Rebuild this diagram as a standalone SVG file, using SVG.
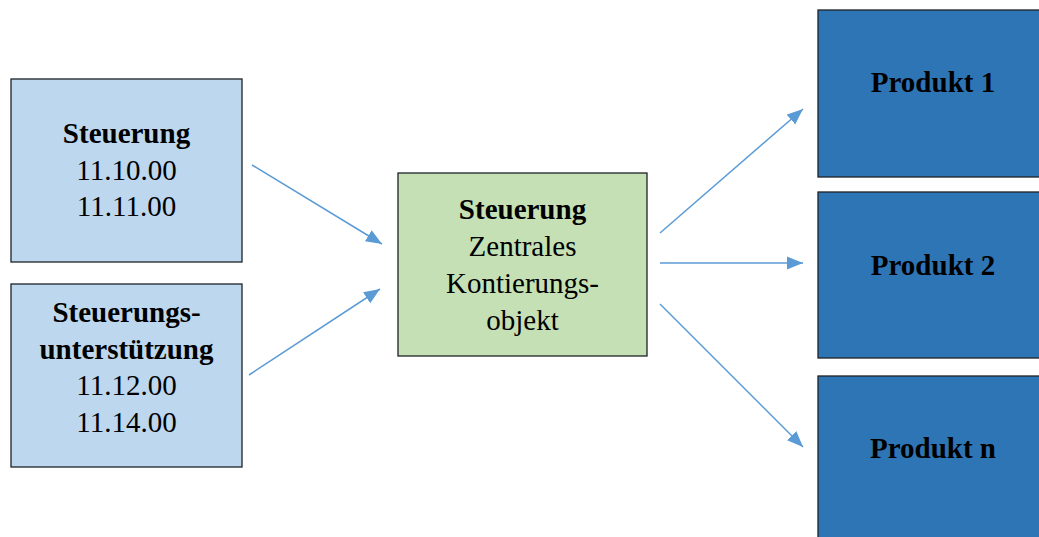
<svg xmlns="http://www.w3.org/2000/svg" width="1039" height="537" viewBox="0 0 1039 537">
  <style>
    .box { stroke: #1e2226; stroke-width: 1.3; }
    .src { fill: #BDD7EE; }
    .hub { fill: #C5E0B4; }
    .prod { fill: #2E75B6; }
    text { font-family: "Liberation Serif", "Times New Roman", serif; font-size: 29px; fill: #000; text-anchor: middle; }
    .b { font-weight: bold; }
    .conn { stroke: #5B9BD5; stroke-width: 1.5; fill: none; marker-end: url(#arrow); }
  </style>
  <defs>
    <marker id="arrow" markerUnits="userSpaceOnUse" markerWidth="17" markerHeight="14" refX="16" refY="7" orient="auto">
      <path d="M0,0.5 L16,7 L0,13.5 z" fill="#5B9BD5"/>
    </marker>
  </defs>
  <rect width="1039" height="537" fill="#fff"/>

  <g id="steuerung">
    <rect class="box src" x="11" y="79" width="231" height="183"/>
    <text class="b" x="126.5" y="143">Steuerung</text>
    <text x="126.5" y="180">11.10.00</text>
    <text x="126.5" y="216">11.11.00</text>
  </g>

  <g id="steuerungsunterstuetzung">
    <rect class="box src" x="11" y="284" width="231" height="183"/>
    <text class="b" x="126.5" y="322">Steuerungs-</text>
    <text class="b" x="126.5" y="359">unterstützung</text>
    <text x="126.5" y="395">11.12.00</text>
    <text x="126.5" y="432">11.14.00</text>
  </g>

  <g id="kontierungsobjekt">
    <rect class="box hub" x="398" y="173" width="249" height="183"/>
    <text class="b" x="522.5" y="219">Steuerung</text>
    <text x="522.5" y="256">Zentrales</text>
    <text x="522.5" y="293">Kontierungs-</text>
    <text x="522.5" y="330">objekt</text>
  </g>

  <g id="produkt1">
    <rect class="box prod" x="818" y="10" width="230" height="167"/>
    <text class="b" x="933" y="92">Produkt 1</text>
  </g>

  <g id="produkt2">
    <rect class="box prod" x="818" y="192" width="230" height="166"/>
    <text class="b" x="933" y="275">Produkt 2</text>
  </g>

  <g id="produktn">
    <rect class="box prod" x="818" y="376" width="230" height="170"/>
    <text class="b" x="933" y="458">Produkt n</text>
  </g>

  <g id="connectors">
    <line class="conn" x1="252" y1="165" x2="382" y2="244"/>
    <line class="conn" x1="249" y1="375" x2="380" y2="289"/>
    <line class="conn" x1="660" y1="233" x2="803" y2="109"/>
    <line class="conn" x1="660" y1="263" x2="803" y2="263"/>
    <line class="conn" x1="660" y1="304" x2="803" y2="447"/>
  </g>
</svg>
